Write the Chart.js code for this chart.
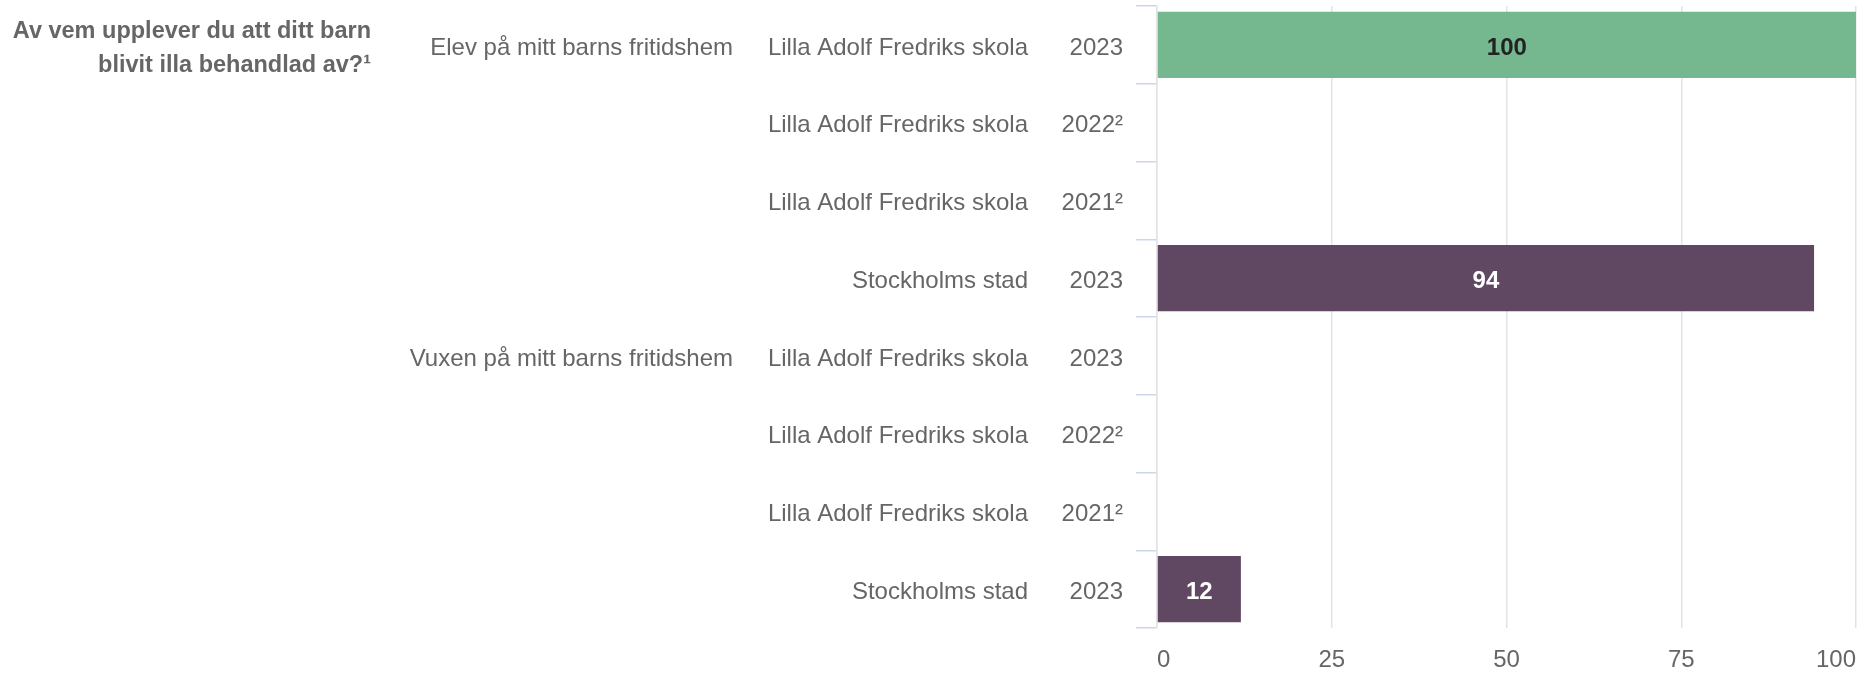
<!DOCTYPE html>
<html>
<head>
<meta charset="utf-8">
<script src="https://cdn.jsdelivr.net/npm/chart.js@4/dist/chart.umd.min.js"></script>
<style>
html,body{margin:0;padding:0;background:#fff;}
#wrap{width:1875px;height:673px;}
</style>
</head>
<body>
<div id="wrap"><canvas id="c" width="1875" height="673"></canvas></div>
<script>
const question = ['Av vem upplever du att ditt barn', 'blivit illa behandlad av?¹'];
const groups = ['Elev på mitt barns fritidshem', '', '', '', 'Vuxen på mitt barns fritidshem', '', '', ''];
const schools = ['Lilla Adolf Fredriks skola', 'Lilla Adolf Fredriks skola', 'Lilla Adolf Fredriks skola', 'Stockholms stad',
                 'Lilla Adolf Fredriks skola', 'Lilla Adolf Fredriks skola', 'Lilla Adolf Fredriks skola', 'Stockholms stad'];
const years = ['2023', '2022²', '2021²', '2023', '2023', '2022²', '2021²', '2023'];
const values = [100, null, null, 94, null, null, null, 12];
const xTicks = [0, 25, 50, 75, 100];

const FONT = "'Liberation Sans', Arial, Helvetica, sans-serif";
const TEXT = '#666666';
const GREEN = '#75b890';
const PURPLE = '#604863';

const categories = schools.map((s, i) => s + ' ' + years[i] + ' ' + i);
const barColors = schools.map(s => s === 'Stockholms stad' ? PURPLE : GREEN);
const labelColors = schools.map(s => s === 'Stockholms stad' ? '#ffffff' : '#222222');

const labelPlugin = {
  id: 'multiLabels',
  afterDraw(chart) {
    const ctx = chart.ctx;
    const y = chart.scales.y;
    const left = chart.chartArea.left;
    ctx.save();
    ctx.textBaseline = 'middle';
    ctx.fillStyle = TEXT;
    ctx.textAlign = 'right';
    ctx.font = '24px ' + FONT;
    categories.forEach((c, i) => {
      const py = y.getPixelForValue(i) + 3;
      ctx.fillText(years[i], left - 34, py);
      ctx.fillText(schools[i], left - 129, py);
      if (groups[i]) ctx.fillText(groups[i], left - 424, py);
    });
    // question title
    ctx.font = 'bold 23.5px ' + FONT;
    const py0 = y.getPixelForValue(0);
    ctx.fillText(question[0], left - 786, py0 - 13);
    ctx.fillText(question[1], left - 786, py0 + 21);
    // bar value labels
    const meta = chart.getDatasetMeta(0);
    ctx.textAlign = 'center';
    ctx.font = 'bold 24px ' + FONT;
    meta.data.forEach((bar, i) => {
      if (values[i] === null || values[i] === undefined) return;
      ctx.fillStyle = labelColors[i];
      ctx.fillText(String(values[i]), (bar.x + bar.base) / 2, bar.y + 3);
    });
    ctx.restore();
  }
};

new Chart(document.getElementById('c'), {
  type: 'bar',
  data: {
    labels: categories,
    datasets: [{
      data: values,
      backgroundColor: barColors,
      borderWidth: 0,
      barPercentage: 0.85,
      categoryPercentage: 1.0
    }]
  },
  options: {
    indexAxis: 'y',
    responsive: false,
    devicePixelRatio: 1,
    animation: false,
    layout: { padding: { top: 6, left: 0, right: 19, bottom: 0 } },
    plugins: { legend: { display: false }, tooltip: { enabled: false } },
    scales: {
      x: {
        min: 0,
        max: 100,
        afterBuildTicks(scale) { scale.ticks = xTicks.map(v => ({ value: v })); },
        ticks: { color: TEXT, font: { family: FONT, size: 24 }, padding: 18, align: 'inner', maxRotation: 0 },
        grid: { color: '#e3e3e3', lineWidth: 1.5, drawTicks: false },
        border: { display: false },
        afterFit(scale) { scale.height = 45; scale.paddingLeft = 0; scale.paddingRight = 0; }
      },
      y: {
        type: 'category',
        offset: true,
        ticks: { display: false },
        grid: { drawOnChartArea: false, drawTicks: true, tickLength: 21, color: '#ccd6eb', lineWidth: 1.5, offset: true },
        border: { display: true, color: '#e3e3e3', width: 1.5 },
        afterFit(scale) { scale.width = 1157; }
      }
    }
  },
  plugins: [labelPlugin]
});
</script>
</body>
</html>
